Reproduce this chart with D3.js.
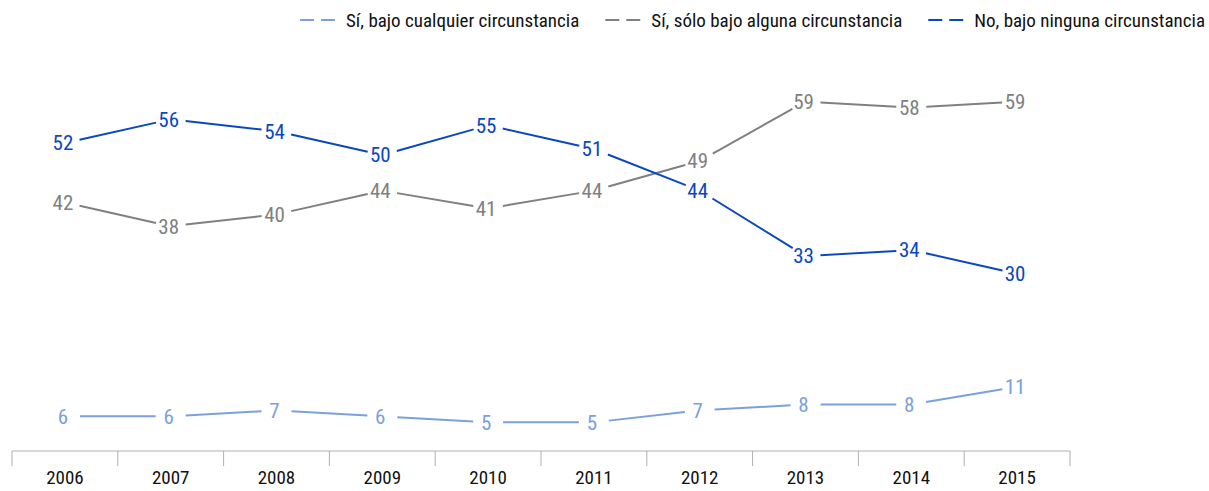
<!DOCTYPE html>
<html>
<head>
<meta charset="utf-8">
<script src="https://cdn.jsdelivr.net/npm/d3@7"></script>
<style>
  body { margin: 0; background: #fff; }
  text { font-family: "Liberation Sans Narrow", "Roboto Condensed", "DejaVu Sans Condensed", sans-serif; }
</style>
</head>
<body>
<div id="chart"></div>
<script>
var years = ["2006", "2007", "2008", "2009", "2010", "2011", "2012", "2013", "2014", "2015"];
var cualquier = [6, 6, 7, 6, 5, 5, 7, 8, 8, 11];
var alguna = [42, 38, 40, 44, 41, 44, 49, 59, 58, 59];
var ninguna = [52, 56, 54, 50, 55, 51, 44, 33, 34, 30];
var seriesNames = ["Sí, bajo cualquier circunstancia", "Sí, sólo bajo alguna circunstancia", "No, bajo ninguna circunstancia"];
var seriesColors = ["#7aa0de", "#808080", "#0a47c2"];

var width = 1209, height = 491;

var svg = d3.select("#chart")
  .append("svg")
  .attr("width", width)
  .attr("height", height);

var x = d3.scaleBand()
  .domain(years)
  .range([12, 1070]);

var y = d3.scaleLinear()
  .domain([0, 60])
  .range([452, 95.6]);

// axis: baseline with ticks at band edges
var axisY = 451;
var edges = years.map(function (d) { return x(d); }).concat([x.range()[1]]);
svg.append("line")
  .attr("x1", x.range()[0]).attr("x2", x.range()[1])
  .attr("y1", axisY).attr("y2", axisY)
  .attr("stroke", "#b0b0b0").attr("stroke-width", 1);
svg.selectAll("line.tick")
  .data(edges)
  .enter()
  .append("line")
  .attr("class", "tick")
  .attr("x1", function (d) { return d; }).attr("x2", function (d) { return d; })
  .attr("y1", axisY).attr("y2", axisY + 15)
  .attr("stroke", "#b0b0b0").attr("stroke-width", 1);
svg.selectAll("text.year")
  .data(years)
  .enter()
  .append("text")
  .attr("class", "year")
  .attr("x", function (d) { return x(d) + x.bandwidth() / 2; })
  .attr("y", 484)
  .attr("text-anchor", "middle")
  .attr("font-size", 19)
  .attr("fill", "#111")
  .text(function (d) { return d; });

var allSeries = [cualquier, alguna, ninguna];
var gap = 15;

allSeries.forEach(function (vals, si) {
  var pts = vals.map(function (v, i) {
    return { x: x(years[i]) + x.bandwidth() / 2, y: y(v), v: v };
  });
  var segs = [];
  for (var i = 0; i < pts.length - 1; i++) {
    var a = pts[i], b = pts[i + 1];
    var dx = b.x - a.x, dy = b.y - a.y;
    var len = Math.sqrt(dx * dx + dy * dy);
    var ux = dx / len, uy = dy / len;
    segs.push({
      x1: a.x + ux * gap, y1: a.y + uy * gap,
      x2: b.x - ux * gap, y2: b.y - uy * gap
    });
  }
  var g = svg.append("g");
  g.selectAll("line")
    .data(segs)
    .enter()
    .append("line")
    .attr("x1", function (d) { return d.x1; })
    .attr("y1", function (d) { return d.y1; })
    .attr("x2", function (d) { return d.x2; })
    .attr("y2", function (d) { return d.y2; })
    .attr("stroke", seriesColors[si])
    .attr("stroke-width", 2);
  g.selectAll("text")
    .data(pts)
    .enter()
    .append("text")
    .attr("x", function (d) { return d.x - 2; })
    .attr("y", function (d) { return d.y; })
    .attr("dy", "0.35em")
    .attr("text-anchor", "middle")
    .attr("font-size", 21)
    .attr("fill", seriesColors[si])
    .text(function (d) { return d.v; });
});

// legend, right aligned
var legend = svg.append("g");
var lx = 1205;
for (var k = seriesNames.length - 1; k >= 0; k--) {
  var t = legend.append("text")
    .attr("y", 20)
    .attr("dy", "0.35em")
    .attr("font-size", 19)
    .attr("fill", "#111")
    .text(seriesNames[k]);
  var w = t.node().getComputedTextLength();
  var tx = lx - w;
  t.attr("x", tx);
  var sx = tx - 46;
  legend.append("line")
    .attr("x1", sx).attr("x2", sx + 35)
    .attr("y1", 20).attr("y2", 20)
    .attr("stroke", seriesColors[k])
    .attr("stroke-width", 2)
    .attr("stroke-dasharray", "14,7");
  lx = sx - 26;
}
</script>
</body>
</html>
